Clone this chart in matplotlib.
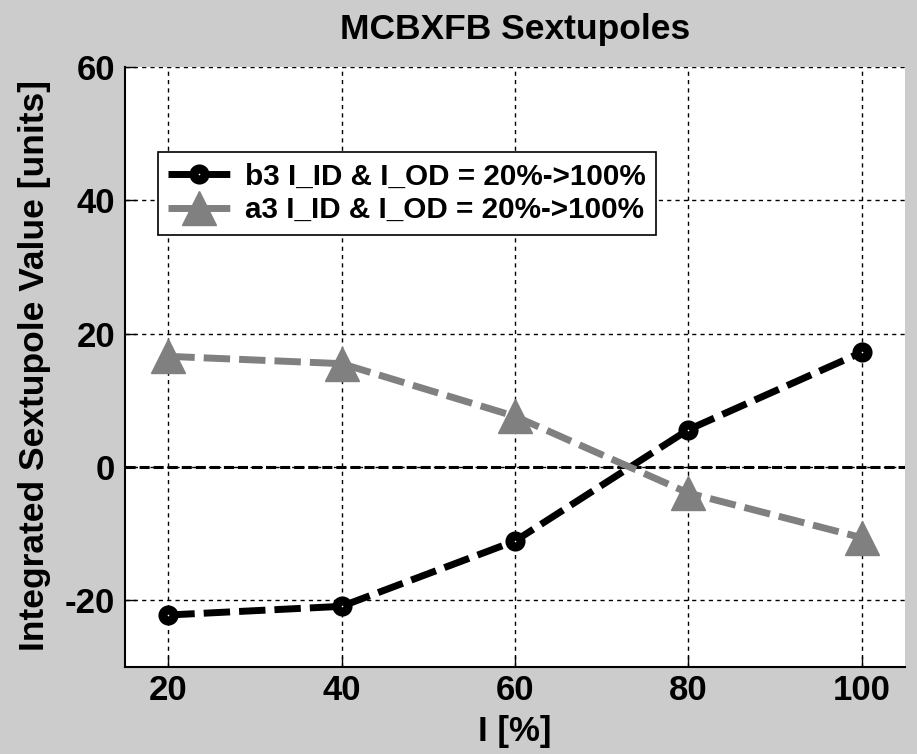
import matplotlib
matplotlib.use("Agg")
import matplotlib.pyplot as plt
from matplotlib.ticker import FuncFormatter

plt.rcParams['font.family'] = ["Liberation Sans", "DejaVu Sans"]
plt.rcParams['font.weight'] = 'bold'
plt.rcParams['axes.unicode_minus'] = False

current = [20, 40, 60, 80, 100]
b3 = [-22.2, -20.9, -11.1, 5.6, 17.2]
a3 = [16.6, 15.5, 7.6, -3.9, -10.6]
labels = ["b3 I_ID & I_OD = 20%->100%", "a3 I_ID & I_OD = 20%->100%"]

fig = plt.figure(figsize=(9.17, 7.54), dpi=100, facecolor='#cccccc')
ax = fig.add_axes([125/917, 1-667/754, 780/917, 600/754])
ax.set_facecolor('white')

ax.plot(current, b3, color='black', ls=(0, (3.8, 1.3)), lw=5, marker='o',
        markersize=8, markerfacecolor='white', markeredgecolor='black', markeredgewidth=6.5,
        label=labels[0])
ax.plot(current, a3, color='#808080', ls=(0, (3.8, 1.3)), lw=5, marker='^',
        markersize=24, markerfacecolor='#808080', markeredgecolor='#808080',
        label=labels[1])
ax.axhline(0, color='black', lw=2.2, ls=(0, (3.3, 1.3)), zorder=1)

ax.set_xlim(15, 105)
ax.set_ylim(-30, 60)
ax.set_xticks(current)
ax.set_yticks([-20, 0, 20, 40, 60])
ax.yaxis.set_major_formatter(FuncFormatter(lambda v, p: f"{v:.0f}".replace("\u2212", "-")))
ax.grid(True, color='black', ls=(0, (3, 3)), lw=1)
ax.tick_params(direction='in', labelsize=25, length=8, width=1)
ax.tick_params(axis='x', pad=5)
ax.tick_params(axis='y', pad=7)
for s in ['top', 'right']:
    ax.spines[s].set_visible(False)
for s in ['left', 'bottom']:
    ax.spines[s].set_linewidth(1.5)

ax.set_title("MCBXFB Sextupoles", fontsize=25.5, fontweight='bold', pad=20)
ax.set_xlabel("I [%]", fontsize=25, fontweight='bold', labelpad=6)
ax.set_ylabel("Integrated Sextupole Value [units]", fontsize=25.5, fontweight='bold')
ax.yaxis.set_label_coords(-0.095, 0.503)

leg = ax.legend(loc='upper left', bbox_to_anchor=(33/780, 1-85/600), fontsize=21.3,
                frameon=True, fancybox=False, edgecolor='black', framealpha=1,
                handlelength=2.1, borderpad=0.35, labelspacing=0.2, handletextpad=0.5,
                borderaxespad=0)
leg.get_frame().set_linewidth(1.2)

fig.savefig("out.png", dpi=100, facecolor=fig.get_facecolor())
